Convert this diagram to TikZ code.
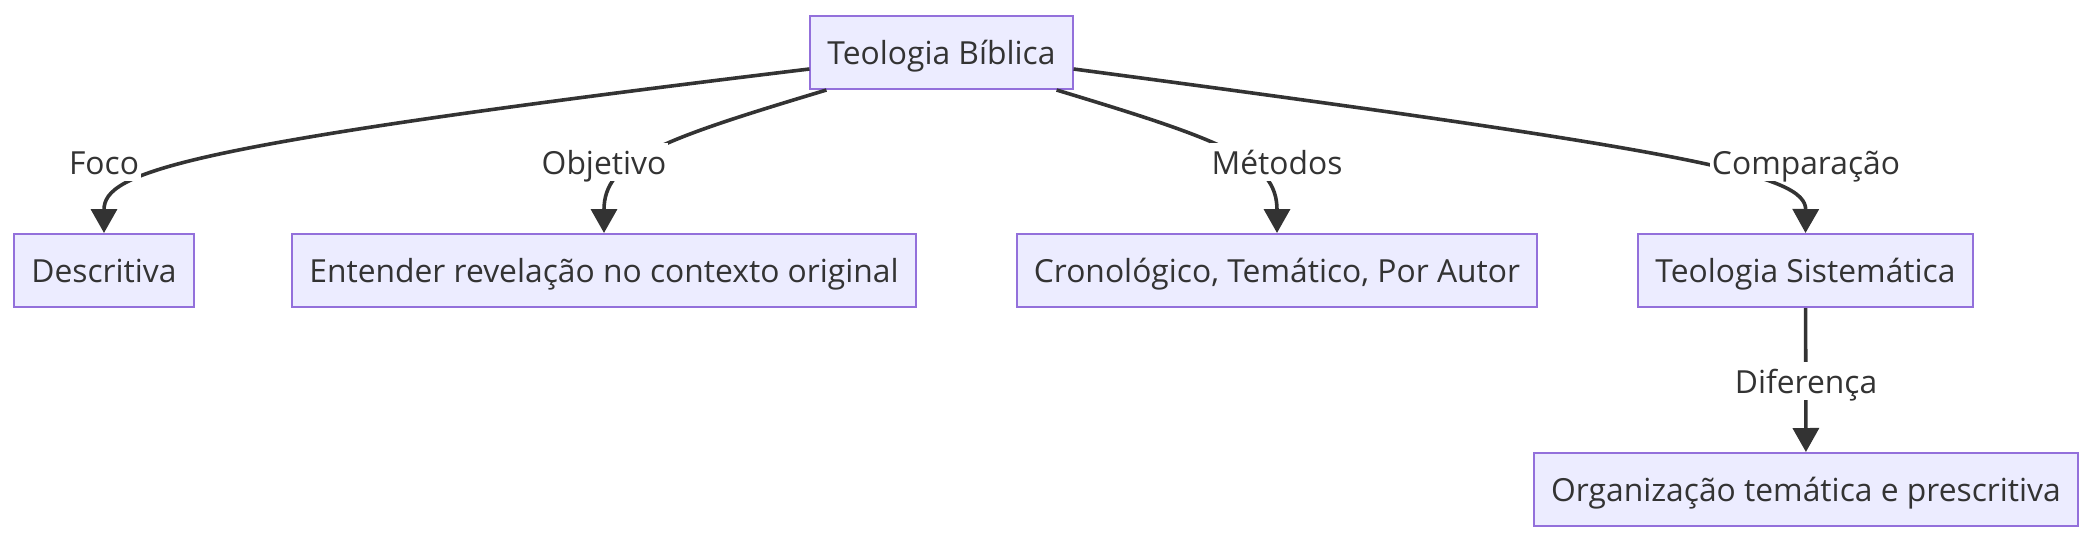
\documentclass[tikz,border=0pt]{standalone}
\usepackage{fontspec}
\setmainfont{Open Sans}
\usepackage{xcolor}
\usetikzlibrary{positioning,arrows.meta,calc}
\definecolor{cFill}{HTML}{ECECFF}
\definecolor{cLine}{HTML}{9370DB}
\definecolor{cInk}{HTML}{333333}
\begin{document}
\begin{tikzpicture}[x=0.5pt,y=-0.5pt,font=\fontsize{15.9}{19}\selectfont,
  box/.style={draw=cLine,fill=cFill,line width=1pt,minimum height=36.5pt,inner xsep=8.5pt,
    text height=15pt,text depth=3pt,text=cInk},
  lbl/.style={fill=white,inner xsep=1pt,inner ysep=0.5pt,text height=15pt,text depth=3pt,text=cInk},
  ar/.style={-{Triangle[length=12pt,width=13pt]},line width=1.8pt,cInk}]
  \useasboundingbox (0,0) rectangle (2094,542);
  % top node
  \node[box] (bib) at (941.5,52.5) {Teologia Bíblica};
  % second row
  \node[box] (desc) at (104,270.5) {Descritiva};
  \node[box] (ent) at (604,270.5) {Entender revelação no contexto original};
  \node[box] (cron) at (1277,270.5) {Cronológico, Temático, Por Autor};
  \node[box] (sist) at (1805.5,270.5) {Teologia Sistemática};
  % bottom node
  \node[box] (org) at (1806,489.5) {Organização temática e prescritiva};
  % edges
  \draw[ar] ($(bib.west)+(0,16.5)$) .. controls (180,145) and (104,172) .. (desc.north);
  \draw[ar] ($(bib.south west)+(17,0)$) .. controls (660,140) and (604,160) .. (ent.north);
  \draw[ar] ($(bib.south east)+(-17,0)$) .. controls (1222,140) and (1277,160) .. (cron.north);
  \draw[ar] ($(bib.east)+(0,16.5)$) .. controls (1700,152) and (1806,175) .. (sist.north);
  \draw[ar] (sist) -- (org);
  % edge labels
  \node[lbl] (lfoco) at (104,162) {Foco};
  \node[lbl] (lobj) at (604,162) {Objetivo};
  \node[lbl] (lmet) at (1277,162) {Métodos};
  \node[lbl] (lcomp) at (1806,162) {Comparação};
  \node[lbl] (ldif) at (1806,381) {Diferença};
\end{tikzpicture}
\end{document}
